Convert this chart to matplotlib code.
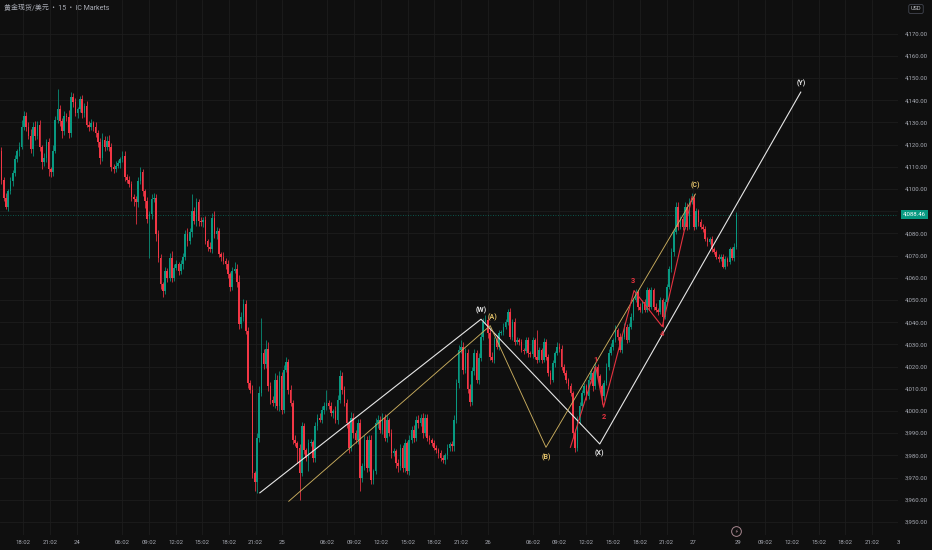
import matplotlib
matplotlib.use('Agg')
import matplotlib.pyplot as plt

plt.rcParams['font.family'] = ['Roboto', 'Noto Sans CJK SC', 'DejaVu Sans']

# ---- data (15 min bars, gold spot) ----
title = '黄金现货/美元  •  15  •  IC Markets'
first_open = 4117.0
closes = [
    4104, 4096, 4092, 4099, 4103.5, 4107, 4113.5, 4117, 4119, 4128,
    4133, 4128, 4124, 4118, 4128, 4124, 4129, 4119, 4112, 4114,
    4121, 4109, 4107.5, 4117, 4131, 4136, 4130.5, 4126, 4133, 4132.5,
    4125, 4141.5, 4139, 4134, 4136, 4140.5, 4134, 4137.5, 4129, 4128,
    4129.5, 4128, 4125, 4121, 4114, 4122, 4119, 4121.5, 4119, 4110,
    4109, 4110.5, 4111.5, 4113.5, 4115, 4105.5, 4104, 4102, 4096.5, 4095.5,
    4094, 4103.5, 4107.5, 4099, 4094.5, 4086.5, 4088.5, 4095.5, 4096, 4079.5,
    4069, 4057, 4054, 4063, 4060, 4069, 4060, 4064.5, 4066, 4063,
    4066, 4069.5, 4079.5, 4076.5, 4080.5, 4090, 4085.5, 4094, 4085.5, 4085,
    4086, 4076.5, 4074, 4073, 4087, 4079.5, 4081, 4070.5, 4069.5, 4067.5,
    4066, 4061.5, 4056, 4063, 4064, 4058, 4039, 4042.5, 4048, 4036,
    4012.5, 4009.5, 3972, 3968, 3988, 4008, 4026, 4021, 4028, 4011,
    4005, 4003.5, 4014, 4002, 4015.5, 4000.5, 4018.5, 4022, 4009.5, 4003.5,
    3987, 3985.5, 3983.5, 3972, 3993, 3982.5, 3979, 3985.5, 3986, 3979,
    3993, 3997, 3996, 4000.5, 4002, 4003.5, 4002, 3999, 4000, 3996,
    4005, 4015.5, 4009.5, 4003.5, 3994.5, 3983.5, 3997, 3990, 3987, 3994.5,
    3970, 3975, 3987, 3974.5, 3987, 3969, 3973, 3994.5, 3996, 3991.5,
    3997, 3988, 3996, 3990, 3981, 3982, 3976.5, 3975, 3983.5, 3974.5,
    3985.5, 3973, 3987, 3991.5, 3988, 3996, 3994.5, 3997, 3990, 3997,
    3988, 3987, 3985.5, 3983.5, 3982.5, 3981, 3979, 3978, 3980, 3983.5,
    3985, 3984, 3996, 4012.5, 4027.5, 4029, 4018.5, 4026, 4010, 4004,
    4018, 4026, 4014, 4024, 4033.5, 4040, 4041, 4035, 4024.5, 4023,
    4032, 4029, 4035, 4035.5, 4038, 4040, 4044.5, 4033.5, 4040, 4031,
    4032, 4031, 4027.5, 4027, 4032, 4026, 4025.5, 4032, 4024.5, 4023,
    4027.5, 4023, 4031, 4024.5, 4017, 4014, 4021.5, 4026, 4029, 4028,
    4020, 4017, 4014, 4011, 4008, 3990, 3983.5, 3996, 4002, 4008,
    4011, 4006.5, 4014, 4017, 4011, 4020, 4015.5, 4011, 4006.5, 4012.5,
    4020, 4026, 4029, 4032, 4036.5, 4033.5, 4027.5, 4033.5, 4038, 4032,
    4038, 4042.5, 4050, 4053.5, 4047, 4045.5, 4049, 4045.5, 4054.5, 4047,
    4054.5, 4047, 4045.5, 4044.5, 4050, 4042.5, 4049, 4056, 4064, 4071.5,
    4080.5, 4092, 4083, 4086.5, 4083, 4092, 4083, 4094, 4096, 4083,
    4090, 4085, 4083, 4082, 4077.5, 4076, 4077.5, 4073, 4071.5, 4069.5,
    4068.5, 4069.5, 4065, 4068.5, 4067, 4073, 4069, 4074, 4088.46,
]
# wick lengths above / below the body
wick_up = [
    2, 1.5, 2, 1, 2, 1.5, 2, 1, 2, 3,
    2, 1.5, 2, 3, 2, 2.5, 1.5, 2, 1, 2,
    1.5, 2, 1, 3, 2, 9, 2, 1.5, 2, 1,
    3, 2, 1.5, 2, 1, 1.5, 2, 1, 2, 1.5,
    2, 1, 2, 1.5, 2, 3, 2, 2.5, 3, 1.5,
    1, 2, 1.5, 1, 2, 2, 1, 2, 1.5, 1,
    1.5, 2, 2.5, 1.5, 1, 2, 1.5, 2, 2, 1.5,
    2, 1.5, 1, 2, 1.5, 2, 3, 1.5, 2, 1,
    2, 1.5, 2, 3, 2, 7.5, 2, 2, 1.5, 2,
    1.5, 2, 1, 2, 2, 3, 2, 1.5, 1, 2,
    1.5, 2, 1, 2, 3, 2, 3, 2, 2.5, 2,
    2, 1.5, 2, 1, 2, 3, 16, 2, 4, 3,
    2, 1.5, 3, 2, 2.5, 2, 2, 2.5, 1.5, 2,
    1.5, 2, 1, 1.5, 2, 1.5, 1, 2, 1.5, 1,
    2, 1.5, 2, 1.5, 2, 6, 1.5, 2, 1, 2,
    2, 3, 2, 1.5, 2, 1, 2.5, 2, 1.5, 2,
    2, 1.5, 2, 1.5, 2, 2, 1, 2.5, 2, 1.5,
    2, 1.5, 2, 1, 2, 1.5, 1, 2, 1.5, 1,
    2, 1, 2, 1.5, 2, 1.5, 2, 1.5, 2, 1.5,
    1.5, 1, 1, 1.5, 1, 1, 1.5, 1, 1, 1.5,
    1, 1.5, 2, 2, 2, 3, 2, 2.5, 2, 2,
    2, 2, 1.5, 2, 2, 2, 2, 1.5, 2, 2,
    1.5, 2, 1.5, 1, 1.5, 1.5, 1.5, 2, 1.5, 2,
    1.5, 1, 1.5, 1, 1.5, 1.5, 1, 1.5, 1, 12,
    1.5, 1, 2, 1.5, 1, 1.5, 1.5, 1, 2, 1.5,
    1.5, 1, 1.5, 1, 1.5, 1, 2, 1.5, 2, 1.5,
    1.5, 1, 1.5, 2, 1, 1.5, 1, 1, 1, 1.5,
    1.5, 2, 1.5, 1, 2, 1, 1.5, 1, 1.5, 1,
    1.5, 1.5, 1, 1.5, 1, 1.5, 1, 1.5, 1.5, 1,
    1.5, 1, 1.5, 1, 1.5, 1, 1.5, 1, 1.5, 2,
    1.5, 2, 2, 1.5, 1.5, 2, 1.5, 2, 2, 1.5,
    1.5, 1, 1.5, 1, 1.5, 1, 1, 1.5, 1, 1,
    1, 1, 1, 1.5, 1, 1, 1, 1.5, 1,
]
wick_dn = [
    2, 1.5, 1, 2, 1.5, 2, 1, 1.5, 2, 1,
    1.5, 2, 1.5, 2, 3, 2, 1.5, 2, 3, 1.5,
    2, 3, 2, 1.5, 1, 1.5, 2, 3, 1.5, 2,
    2, 1.5, 2, 1, 2, 1.5, 2, 1.5, 1, 2,
    1.5, 2, 1.5, 2, 3, 1.5, 2, 1.5, 2, 2,
    2, 1.5, 1, 2, 1.5, 2, 1.5, 1, 2, 3,
    10, 2, 1.5, 2, 3, 2, 17.5, 2, 1.5, 3,
    2, 2, 2.5, 1.5, 2, 1.5, 2, 1.5, 1, 2,
    1.5, 2, 1.5, 2, 1.5, 2, 1.5, 2, 2, 1.5,
    2, 1.5, 2, 1.5, 2, 1.5, 2, 1, 2, 1.5,
    2, 1.5, 2, 1.5, 1, 2, 2, 1.5, 2, 1.5,
    2, 1.5, 2, 4, 5, 2, 1.5, 2, 1.5, 2,
    2, 1.5, 2, 1.5, 2, 2, 1.5, 1, 2, 1.5,
    2, 1.5, 7, 12, 1.5, 2, 1.5, 6, 1.5, 2,
    2, 1.5, 1, 1.5, 2, 1.5, 1, 1.5, 2, 1.5,
    2, 1.5, 2, 1.5, 2, 2.5, 1.5, 2, 1.5, 2,
    6, 2, 1.5, 2, 1.5, 2, 2, 1.5, 2, 1.5,
    2, 1.5, 2, 1.5, 2, 1.5, 2, 2.5, 1.5, 2,
    2, 1.5, 2, 1.5, 2, 1.5, 2, 1.5, 2, 1.5,
    1.5, 2, 1.5, 1, 1.5, 2, 1.5, 1.5, 2, 1.5,
    1.5, 2, 2, 1.5, 2, 1.5, 2, 1.5, 2, 2,
    1.5, 2, 1.5, 2, 1.5, 1.5, 1, 2, 1.5, 1,
    1.5, 1, 1.5, 1, 1.5, 1, 1.5, 1, 1.5, 1.5,
    1, 1.5, 1, 1.5, 1, 1.5, 1, 1.5, 1, 1.5,
    1, 1.5, 1, 1.5, 1.5, 2, 1, 1.5, 1, 1.5,
    1.5, 1, 1.5, 1, 1.5, 2, 2, 1.5, 2, 1.5,
    1, 1.5, 1, 1.5, 2, 1, 1.5, 1, 3.5, 1.5,
    1, 1.5, 1, 1.5, 1, 1.5, 1, 1.5, 1, 1.5,
    1, 1, 1.5, 1, 1.5, 1, 1.5, 1, 1, 1.5,
    1, 1.5, 1, 1.5, 1, 4.5, 1, 1.5, 1, 1.5,
    1.5, 1, 1.5, 1, 1.5, 1, 1.5, 1, 1, 1.5,
    1, 1.5, 1, 1.5, 1, 1.5, 1, 1.5, 1, 1,
    1.5, 1, 0.5, 1, 1.5, 1, 1, 1.5, 1,
]
last_price = 4088.46

time_labels = ['18:02', '21:02', '24', '06:02', '09:02', '12:02', '15:02', '18:02',
               '21:02', '25', '06:02', '09:02', '12:02', '15:02', '18:02', '21:02',
               '26', '06:02', '09:02', '12:02', '15:02', '18:02', '21:02', '27',
               '29', '09:02', '12:02', '15:02', '18:02', '21:02', '3']
price_ticks = list(range(3950, 4171, 10))

# wave counts: bar index, price
wxy_bars = [115.3, 214.0, 267.0, 356.7]
wxy_prices = [3963.1, 4041.3, 3985.1, 4143.6]
wxy_labels = ['', '(W)', '(X)', '(Y)']
abc_bars = [128.2, 218.1, 243.0, 309.7]
abc_prices = [3959.3, 4038.4, 3983.6, 4097.7]
abc_labels = ['', '(A)', '(B)', '(C)']
imp_bars = [253.9, 265.2, 268.7, 282.3, 294.9, 308.2]
imp_prices = [3983.6, 4020.0, 4001.7, 4054.2, 4038.0, 4096.5]
imp_labels = ['', '1', '2', '3', '4', '']

# ---- layout / style ----
tick_pos = [9.7, 21.7, 33.7, 53.7, 65.7, 77.7, 89.6, 101.6, 113.4, 125.4,
            145.4, 157.2, 169.2, 181.2, 193.1, 205.0, 217.1, 237.1, 249.0, 261.0,
            272.8, 284.8, 296.8, 308.8, 328.7, 340.7, 352.7, 364.7, 376.5, 388.5, 400.1]
wxy_off = [(0, 0), (0, 6.2), (0, -6.7), (0, 6.0)]
abc_off = [(0, 0), (2, 6.0), (0, -7.2), (0, 6.0)]
imp_off = [(0, 0), (-0.5, 4.8), (0.5, -6.8), (-0.5, 7.2), (0, -5.2), (0, 0)]

BG = '#0f0f0f'
GRID = '#1d1d1d'
TXT = '#a9acb5'
UP = '#089981'
DN = '#f23645'
WHITE = '#e6e6e6'
YEL = '#c9ad5e'
YEL_T = '#e3c26a'
RED = '#e5323f'

assert len(closes) == len(wick_up) == len(wick_dn)

opens = [first_open] + closes[:-1]
highs = [max(o, c) + w for o, c, w in zip(opens, closes, wick_up)]
lows = [min(o, c) - w for o, c, w in zip(opens, closes, wick_dn)]
idx = list(range(len(closes)))
cols = [UP if c >= o else DN for o, c in zip(opens, closes)]

fig = plt.figure(figsize=(9.32, 5.5), dpi=100, facecolor=BG)
ax = fig.add_axes([0, 15 / 550, 898 / 932, 535 / 550])
ax.set_facecolor(BG)

for s in ax.spines.values():
    s.set_visible(False)

ax.set_xlim(-0.667, 398.4)
ax.set_ylim(3944.1, 4185.1)

for p in price_ticks:
    ax.axhline(p, color=GRID, lw=0.6, zorder=0)
for t in tick_pos:
    ax.axvline(t, color=GRID, lw=0.6, zorder=0)

# candles
ax.vlines(idx, lows, highs, colors=cols, lw=0.55, zorder=2)
bottoms = [min(o, c) for o, c in zip(opens, closes)]
heights = [max(abs(c - o), 0.35) for o, c in zip(opens, closes)]
ax.bar(idx, heights, bottom=bottoms, width=0.72, color=cols, linewidth=0, zorder=3)

# last price
ax.axhline(last_price, color=UP, lw=0.6, ls=(0, (1, 2)), alpha=0.7, zorder=1)

# wave drawings
ax.plot(wxy_bars, wxy_prices, color=WHITE, lw=0.8, zorder=5)
ax.plot(abc_bars, abc_prices, color=YEL, lw=0.65, zorder=5)
ax.plot(imp_bars, imp_prices, color=RED, lw=0.8, zorder=6)

for b, p, lab, off in zip(wxy_bars, wxy_prices, wxy_labels, wxy_off):
    if lab:
        ax.annotate(lab, (b, p), xytext=off, textcoords='offset points', ha='center',
                    va='center', color=WHITE, fontsize=5, fontweight='bold', zorder=7)
for b, p, lab, off in zip(abc_bars, abc_prices, abc_labels, abc_off):
    if lab:
        ax.annotate(lab, (b, p), xytext=off, textcoords='offset points', ha='center',
                    va='center', color=YEL_T, fontsize=5, fontweight='bold', zorder=7)
for b, p, lab, off in zip(imp_bars, imp_prices, imp_labels, imp_off):
    if lab:
        ax.annotate(lab, (b, p), xytext=off, textcoords='offset points', ha='center',
                    va='center', color=RED, fontsize=5.4, fontweight='bold', zorder=7)

# axes ticks
ax.set_xticks(tick_pos)
ax.set_xticklabels(time_labels)
ax.set_yticks(price_ticks)
ax.set_yticklabels(['{:,.2f}'.format(p) for p in price_ticks])
ax.yaxis.tick_right()
ax.tick_params(axis='x', length=0, pad=3.6, labelsize=4.3, colors=TXT)
ax.tick_params(axis='y', length=0, pad=5, labelsize=4.3, colors=TXT)

# last price tag
ax.text(1 + 5 / 898, last_price, '{:,.2f}'.format(last_price),
        transform=ax.get_yaxis_transform(), ha='left', va='center', fontsize=4.3,
        color='white', zorder=10, clip_on=False,
        bbox=dict(boxstyle='square,pad=0.3', fc=UP, ec='none'))

# event marker on the time axis
ax.plot([327.8], [3945.8], marker='o', ms=7, mfc=BG, mec='#a88790', mew=0.7,
        clip_on=False, zorder=8)
ax.text(327.8, 3945.8, '⚡', ha='center', va='center', fontsize=3.6,
        color='#c9a0aa', clip_on=False, zorder=9)

fig.text(4 / 932, 1 - 8 / 550, title, ha='left', va='center', fontsize=5, color=TXT)
fig.text(916 / 932, 1 - 9 / 550, 'USD', ha='center', va='center', fontsize=4,
         color='#c8cad0',
         bbox=dict(boxstyle='round,pad=0.35,rounding_size=0.3', fc=BG, ec='#434651', lw=0.6))

fig.savefig('out.png', dpi=100, facecolor=BG)
